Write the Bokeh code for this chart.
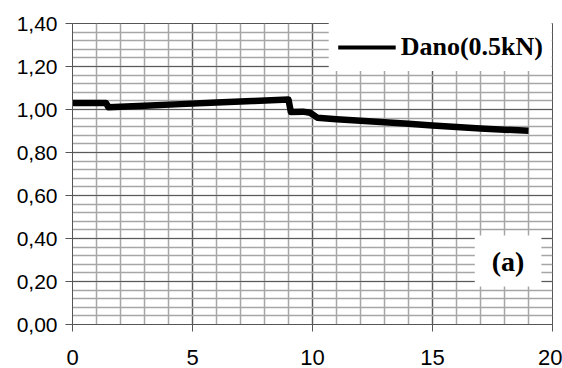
from bokeh.plotting import figure
from bokeh.models import FixedTicker, Legend, Label, Range1d
from bokeh.embed import file_html
from bokeh.resources import INLINE

# ---- data ----
time_s = [0, 1.4, 1.5, 3, 4.5, 6, 7.5, 9.0, 9.1, 9.6, 9.9, 10.2, 11, 12, 13, 14, 15, 16, 17, 18, 19]
ratio = [1.030, 1.030, 1.010, 1.018, 1.025, 1.032, 1.039, 1.046, 0.988, 0.990, 0.985, 0.962,
         0.955, 0.948, 0.941, 0.934, 0.926, 0.919, 0.912, 0.906, 0.901]
series_label = "Dano(0.5kN)"
panel_label = "(a)"

x_ticks = [0, 5, 10, 15, 20]
x_minor = list(range(0, 21))
y_ticks = [0.0, 0.2, 0.4, 0.6, 0.8, 1.0, 1.2, 1.4]
y_tick_labels = ["0,00", "0,20", "0,40", "0,60", "0,80", "1,00", "1,20", "1,40"]
y_minor = [round(i * 0.04, 2) for i in range(0, 36)]

p = figure(width=562, height=368, output_backend="svg", toolbar_location=None,
           x_range=Range1d(0, 20), y_range=Range1d(0, 1.4),
           min_border_left=72, min_border_right=10, min_border_top=23, min_border_bottom=44)
p.background_fill_color = "white"
p.border_fill_color = "white"
p.outline_line_color = "#555555"
p.outline_line_width = 1

# grids
p.xaxis.ticker = FixedTicker(ticks=x_ticks, minor_ticks=x_minor)
p.yaxis.ticker = FixedTicker(ticks=y_ticks, minor_ticks=y_minor)
for g in (p.xgrid[0], p.ygrid[0]):
    g.grid_line_color = "#5a5a5a"
    g.grid_line_width = 1.2
    g.minor_grid_line_color = "#a6a6a6"
    g.minor_grid_line_width = 1.5
    g.level = "underlay"

# axes
for ax in (p.xaxis[0], p.yaxis[0]):
    ax.axis_line_color = "#555555"
    ax.axis_line_width = 1
    ax.major_tick_line_color = "#555555"
    ax.major_tick_out = 7
    ax.major_tick_in = 0
    ax.minor_tick_line_color = None
    ax.major_label_text_font = "Liberation Sans"
    ax.major_label_text_color = "black"

p.yaxis.major_label_overrides = dict(zip(y_ticks, y_tick_labels))
p.yaxis.major_label_text_font_size = "21px"
p.yaxis.major_label_standoff = 8
p.xaxis.major_label_text_font_size = "22px"
p.xaxis.major_label_standoff = 18

r = p.line(time_s, ratio, line_color="black", line_width=6.5, line_join="round")
# thinner proxy line only used for the legend swatch (no visible data)
proxy = p.line([float("nan")], [float("nan")], line_color="black", line_width=4)

legend = Legend(items=[(series_label, [proxy])], location="top_right", margin=0, padding=9,
                glyph_width=58, label_standoff=5, border_line_alpha=0,
                background_fill_color="white", background_fill_alpha=1,
                label_text_font="Liberation Serif", label_text_font_style="bold",
                label_text_font_size="26px", label_text_color="black")
p.add_layout(legend, "center")

lab = Label(x=18.15, y=0.295, text=panel_label, text_align="center", text_baseline="middle",
            text_font="Liberation Serif", text_font_style="bold", text_font_size="28px",
            text_color="black", background_fill_color="white", background_fill_alpha=1,
            padding=(17, 10))
p.add_layout(lab)

open("out.html", "w").write(file_html(p, INLINE))
